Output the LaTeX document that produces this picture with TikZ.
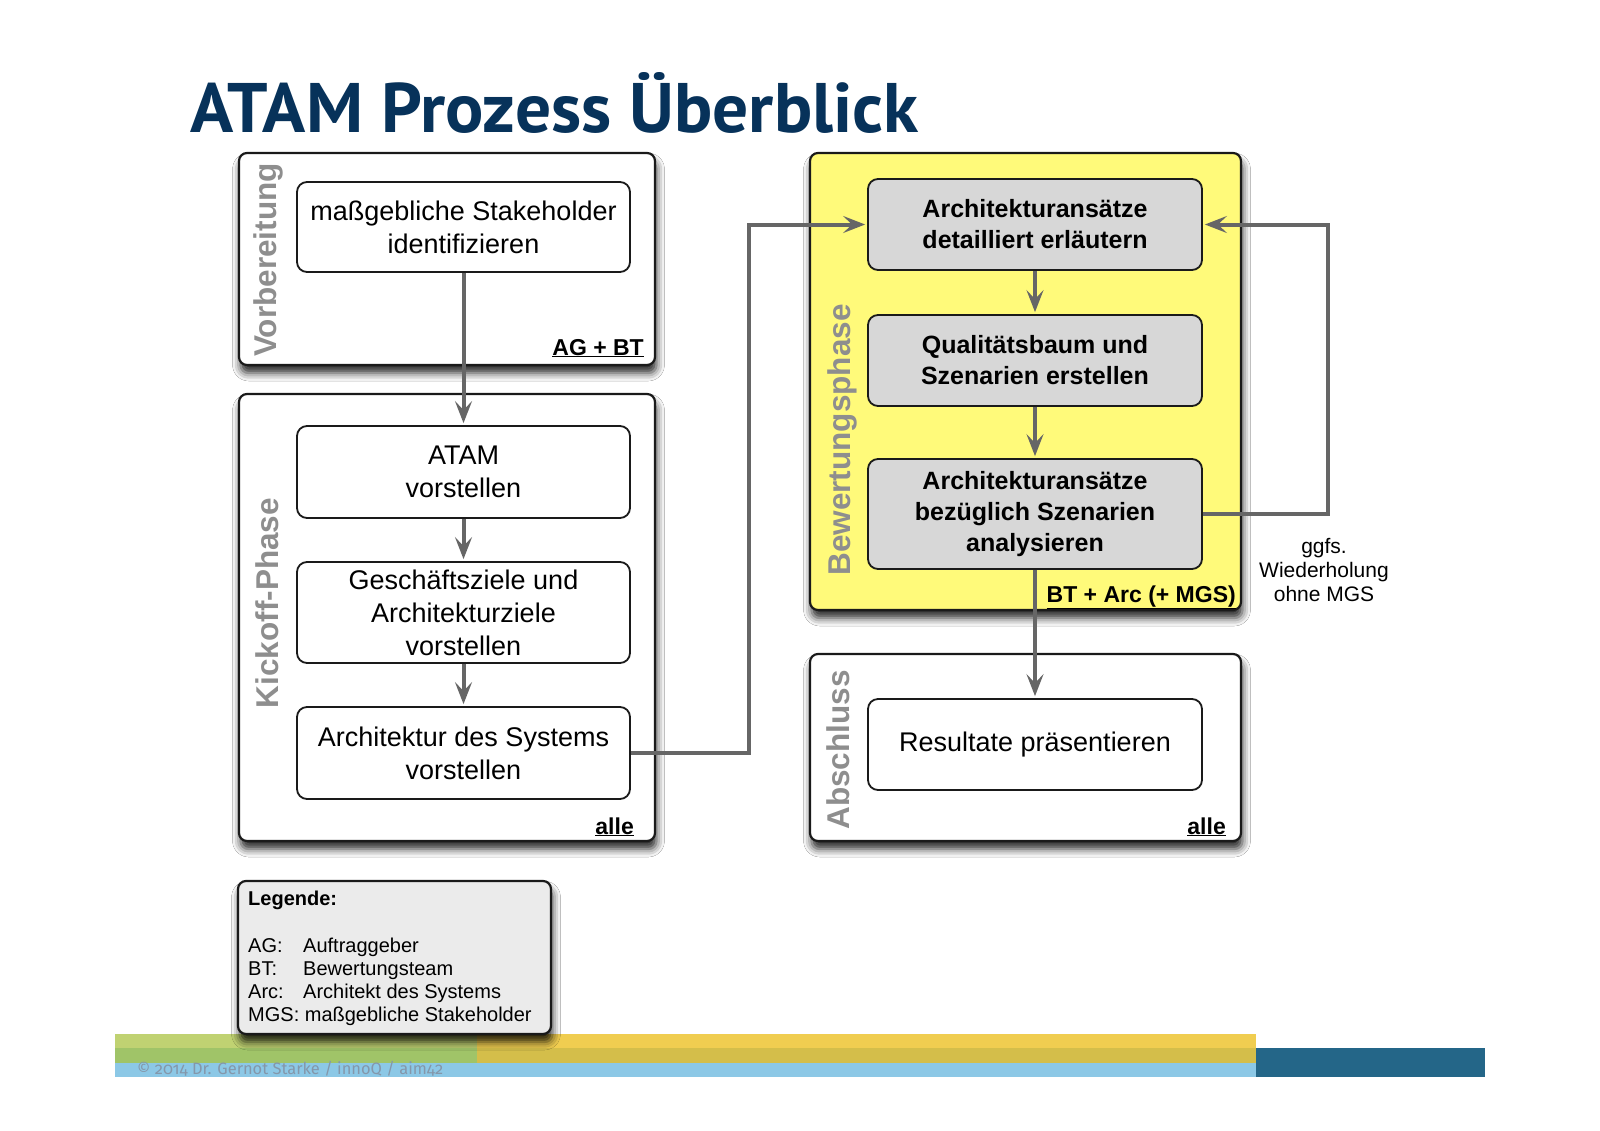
\documentclass[tikz,border=0pt]{standalone}
\usepackage{fontspec}
\setmainfont{Liberation Sans}
\newfontfamily\titlefont{PT Sans}
\newfontfamily\copyfont[Numbers=OldStyle]{Fira Sans}
\usetikzlibrary{arrows.meta,shadows.blur}
\definecolor{linegray}{HTML}{666666}
\definecolor{framecol}{HTML}{1A1A1A}
\definecolor{labgray}{HTML}{8E8E8E}
\definecolor{yellowbg}{HTML}{FFFA7A}
\definecolor{boxgray}{HTML}{D7D7D7}
\definecolor{leggray}{HTML}{EBEBEB}
\definecolor{titleblue}{HTML}{07325A}
\definecolor{greenA}{HTML}{C0D272}
\definecolor{greenB}{HTML}{A0C468}
\definecolor{yellA}{HTML}{F0CD50}
\definecolor{yellB}{HTML}{D4BE4A}
\definecolor{lblue}{HTML}{8CC8E6}
\definecolor{dblue}{HTML}{246688}
\definecolor{copygray}{HTML}{8497AA}
\tikzset{
  frame/.style={draw=framecol, line width=2.2pt, rounded corners=8pt, fill=white, inner sep=0pt,
    blur shadow={shadow xshift=1.5pt, shadow yshift=-8pt, shadow blur radius=8pt, shadow opacity=85}},
  procbox/.style={draw=framecol, line width=1.8pt, rounded corners=10pt, fill=white, inner sep=0pt,
    minimum width=333pt, align=center, font=\fontsize{27}{33}\selectfont},
  evalbox/.style={procbox, fill=boxgray, font=\fontsize{25}{31}\selectfont\bfseries},
  phase/.style={rotate=90, anchor=base, inner sep=0pt, text=labgray, font=\fontsize{31.5}{36}\selectfont\bfseries},
  role/.style={anchor=base east, inner sep=0pt, font=\fontsize{23}{27}\selectfont\bfseries},
  legtext/.style={anchor=base west, inner sep=0pt, font=\fontsize{20}{23}\selectfont},
  conn/.style={draw=linegray, line width=4pt, shorten >=2pt, -{Stealth[length=22pt,width=17pt,inset=9pt]}}
}
\begin{document}
\begin{tikzpicture}[x=1pt,y=-1pt]
\useasboundingbox[fill=white] (0,0) rectangle (1600,1130);

% title
\node[anchor=base west, inner sep=0pt, text=titleblue] (title) at (190,132)
  {\resizebox{728pt}{60pt}{\titlefont\bfseries ATAM Prozess Überblick}};

% footer bands
\fill[greenA] (115,1034) rectangle (477,1048);
\fill[yellA] (477,1034) rectangle (1256,1048);
\fill[greenB] (115,1048) rectangle (477,1063);
\fill[yellB] (477,1048) rectangle (1256,1063);
\fill[lblue] (115,1063) rectangle (1256,1077);
\fill[dblue] (1256,1048) rectangle (1485,1077);
\node[anchor=base west, inner sep=0pt, text=copygray] (copy) at (137,1074)
  {\resizebox{306pt}{!}{\copyfont\fontsize{17}{20}\selectfont © 2014 Dr. Gernot Starke / innoQ / aim42}};

% phase frames
\node[frame, minimum width=416pt, minimum height=212pt] (vorb) at (447,259) {};
\node[frame, minimum width=416pt, minimum height=447pt] (kick) at (447,617.5) {};
\node[frame, fill=yellowbg, minimum width=431pt, minimum height=457pt] (bew) at (1025.5,381.5) {};
\node[frame, minimum width=431pt, minimum height=187pt] (absch) at (1025.5,747.5) {};
\node[frame, fill=leggray, minimum width=313pt, minimum height=153pt] (legend) at (394.5,957.5) {};

% phase labels
\node[phase] (lvorb) at (276,260) {Vorbereitung};
\node[phase] (lkick) at (278,603) {Kickoff-Phase};
\node[phase] (lbew) at (850,440) {Bewertungsphase};
\node[phase] (labsch) at (849,750) {Abschluss};

% process boxes
\node[procbox, minimum height=90pt] (stake) at (463.5,227) {maßgebliche Stakeholder\\identifizieren};
\node[procbox, minimum height=92pt] (atam) at (463.5,472) {ATAM\\vorstellen};
\node[procbox, minimum height=101pt] (ziele) at (463.5,612.5) {Geschäftsziele und\\Architekturziele\\vorstellen};
\node[procbox, minimum height=92pt] (arch) at (463.5,753) {Architektur des Systems\\vorstellen};
\node[evalbox, minimum width=334pt, minimum height=91pt] (detail) at (1035,224.5) {Architekturansätze\\detailliert erläutern};
\node[evalbox, minimum width=334pt, minimum height=91pt] (qual) at (1035,360.5) {Qualitätsbaum und\\Szenarien erstellen};
\node[evalbox, minimum width=334pt, minimum height=110pt] (bez) at (1035,514) {Architekturansätze\\bezüglich Szenarien\\analysieren};
\node[procbox, minimum width=334pt, minimum height=91pt] (result) at (1035,744.5) {Resultate präsentieren};

% role labels
\node[role] (rvorb) at (644,355) {\underline{AG + BT}};
\node[role] (rkick) at (634,834) {\underline{alle}};
\node[role] (rbew) at (1236,602) {\underline{BT + Arc (+ MGS)}};
\node[role] (rabsch) at (1226,834) {\underline{alle}};

% connectors
\coordinate (jl) at (749,500);
\coordinate (jr) at (1328,400);
\draw[conn] (stake.south) -- (atam.north);
\draw[conn] (atam.south) -- (ziele.north);
\draw[conn] (ziele.south) -- (arch.north);
\draw[conn] (arch.east) -- (arch.east -| jl) -- (detail.west -| jl) -- (detail.west);
\draw[conn] (detail.south) -- (qual.north);
\draw[conn] (qual.south) -- (bez.north);
\draw[conn] (bez.east) -- (bez.east -| jr) -- (detail.east -| jr) -- (detail.east);
\draw[conn] (bez.south) -- (result.north);

% loop note
\node[anchor=base, inner sep=0pt, font=\fontsize{21}{24}\selectfont] (n1) at (1324,553) {ggfs.};
\node[anchor=base, inner sep=0pt, font=\fontsize{21}{24}\selectfont] (n2) at (1324,577) {Wiederholung};
\node[anchor=base, inner sep=0pt, font=\fontsize{21}{24}\selectfont] (n3) at (1324,601) {ohne MGS};

% legend text
\node[legtext, font=\fontsize{20}{23}\selectfont\bfseries] (lh) at (248,905) {Legende:};
\node[legtext] (la1) at (248,952) {AG:};
\node[legtext] (lb1) at (303,952) {Auftraggeber};
\node[legtext] (la2) at (248,975) {BT:};
\node[legtext] (lb2) at (303,975) {Bewertungsteam};
\node[legtext] (la3) at (248,998) {Arc:};
\node[legtext] (lb3) at (303,998) {Architekt des Systems};
\node[legtext] (la4) at (248,1021) {MGS: maßgebliche Stakeholder};
\end{tikzpicture}
\end{document}
